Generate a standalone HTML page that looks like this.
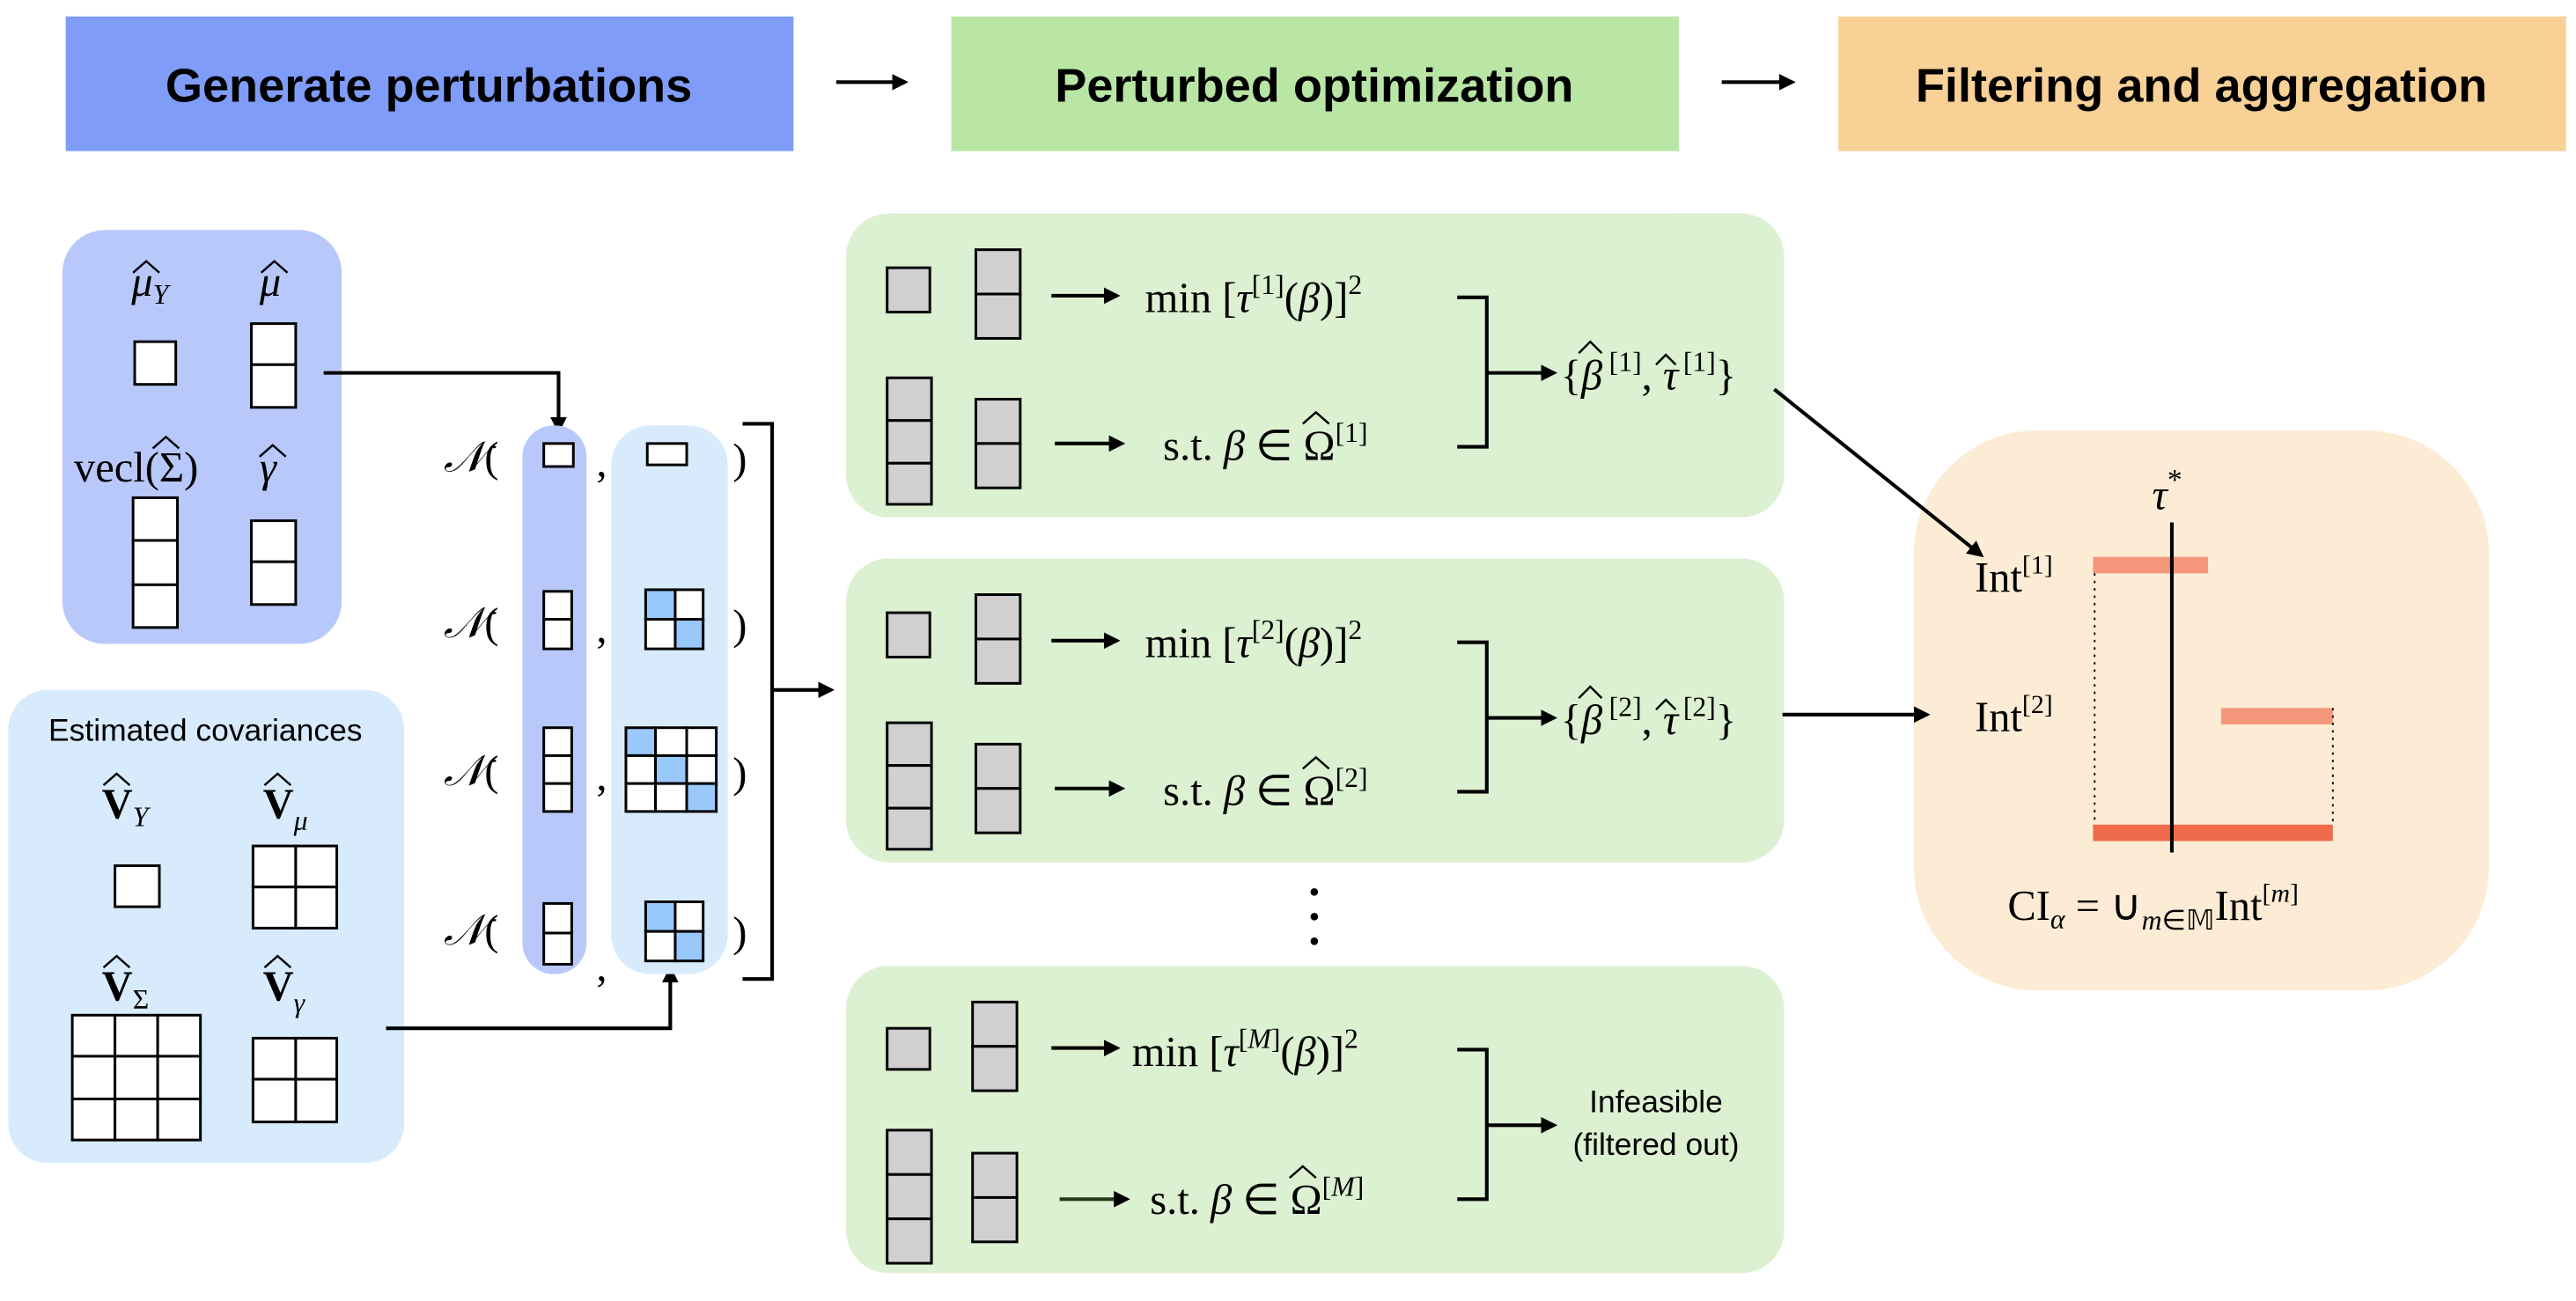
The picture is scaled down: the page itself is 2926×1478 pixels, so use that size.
<!DOCTYPE html>
<html><head><meta charset="utf-8"><style>
html,body{margin:0;padding:0;background:#fff;}
svg{display:block;}
.h{font-family:"Liberation Sans",sans-serif;font-weight:bold;font-size:29px;fill:#000;}
.m{font-family:"Liberation Serif",serif;font-size:26px;fill:#000;}
.i{font-style:italic;}
.s{font-family:"Liberation Sans",sans-serif;font-size:19px;fill:#000;}
.c{fill:#fff;stroke:#000;stroke-width:1.6;}
.g{fill:#d0d0d0;stroke:#000;stroke-width:1.6;}
.b{fill:#99c8fb;stroke:#000;stroke-width:1.6;}
.ln{stroke:#000;stroke-width:2.2;fill:none;}
.hat{stroke:#000;stroke-width:1.3;fill:none;}
</style></head><body>
<svg width="2926" height="1478" viewBox="0 0 1568 792" preserveAspectRatio="none" xmlns="http://www.w3.org/2000/svg">
<defs>
<marker id="a" markerWidth="10" markerHeight="10" refX="8" refY="5" orient="auto" markerUnits="userSpaceOnUse">
<path d="M0,0 L10,5 L0,10 z" fill="#000"/></marker>
</defs>
<!-- headers -->
<rect x="40" y="10" width="443" height="82" fill="#7f9cf8"/>
<text class="h" x="261" y="62" text-anchor="middle">Generate perturbations</text>
<line class="ln" x1="509" y1="50" x2="551" y2="50" marker-end="url(#a)"/>
<rect x="579" y="10" width="443" height="82" fill="#b9e6a5"/>
<text class="h" x="800" y="62" text-anchor="middle">Perturbed optimization</text>
<line class="ln" x1="1048" y1="50" x2="1091" y2="50" marker-end="url(#a)"/>
<rect x="1119" y="10" width="443" height="82" fill="#f8d196"/>
<text class="h" x="1340" y="62" text-anchor="middle">Filtering and aggregation</text>

<!-- left blue box -->
<rect x="38" y="140" width="170" height="252" rx="26" fill="#b8c8fb"/>
<text class="m i" x="80" y="180">μ<tspan font-size="17" dy="5">Y</tspan></text>
<path class="hat" d="M81,166 L89,159 L97,166"/>
<text class="m i" x="158" y="180">μ</text>
<path class="hat" d="M159,166 L167,159 L175,166"/>
<rect class="c" x="82" y="208" width="25" height="26"/>
<rect class="c" x="153" y="197" width="27" height="25"/><rect class="c" x="153" y="222" width="27" height="26"/>
<text class="m" x="45" y="293">vecl(Σ)</text>
<path class="hat" d="M93,273 L101,266 L109,273"/>
<text class="m i" x="158" y="293">γ</text>
<path class="hat" d="M158,278 L166,271 L174,278"/>
<rect class="c" x="81" y="303" width="27" height="26"/><rect class="c" x="81" y="329" width="27" height="27"/><rect class="c" x="81" y="356" width="27" height="26"/>
<rect class="c" x="153" y="317" width="27" height="25"/><rect class="c" x="153" y="342" width="27" height="26"/>
<polyline class="ln" points="197,227 340,227 340,262" marker-end="url(#a)"/>

<!-- covariances box -->
<rect x="5" y="420" width="241" height="288" rx="24" fill="#d8ebfd"/>
<text class="s" x="125" y="451" text-anchor="middle">Estimated covariances</text>
<text class="m" x="62" y="498" font-weight="bold">V<tspan class="i" font-weight="normal" font-size="17" dy="5">Y</tspan></text>
<path class="hat" d="M63,478 L71,471 L79,478"/>
<text class="m" x="160" y="498" font-weight="bold">V<tspan class="i" font-weight="normal" font-size="17" dy="7">μ</tspan></text>
<path class="hat" d="M161,478 L169,471 L177,478"/>
<rect class="c" x="70" y="527" width="27" height="25"/>
<rect class="c" x="154" y="515" width="26" height="25"/><rect class="c" x="180" y="515" width="25" height="25"/>
<rect class="c" x="154" y="540" width="26" height="25"/><rect class="c" x="180" y="540" width="25" height="25"/>
<text class="m" x="62" y="609" font-weight="bold">V<tspan font-weight="normal" font-size="17" dy="5">Σ</tspan></text>
<path class="hat" d="M63,589 L71,582 L79,589"/>
<text class="m" x="160" y="609" font-weight="bold">V<tspan class="i" font-weight="normal" font-size="17" dy="7">γ</tspan></text>
<path class="hat" d="M161,589 L169,582 L177,589"/>
<g>
<rect class="c" x="44" y="618" width="26" height="25"/><rect class="c" x="70" y="618" width="26" height="25"/><rect class="c" x="96" y="618" width="26" height="25"/>
<rect class="c" x="44" y="643" width="26" height="26"/><rect class="c" x="70" y="643" width="26" height="26"/><rect class="c" x="96" y="643" width="26" height="26"/>
<rect class="c" x="44" y="669" width="26" height="25"/><rect class="c" x="70" y="669" width="26" height="25"/><rect class="c" x="96" y="669" width="26" height="25"/>
</g>
<rect class="c" x="154" y="632" width="26" height="25"/><rect class="c" x="180" y="632" width="25" height="25"/>
<rect class="c" x="154" y="657" width="26" height="26"/><rect class="c" x="180" y="657" width="25" height="26"/>
<polyline class="ln" points="235,626 408,626 408,590" marker-end="url(#a)"/>

<!-- capsules -->
<rect x="318" y="259" width="39" height="334" rx="19" fill="#b8c8fb"/>
<rect x="372" y="259" width="71" height="334" rx="24" fill="#d8ebfd"/>
<g class="m">
<text x="270" y="287"><tspan class="i">𝒩</tspan>(</text>
<text x="270" y="388"><tspan class="i">𝒩</tspan>(</text>
<text x="270" y="478"><tspan class="i">𝒩</tspan>(</text>
<text x="270" y="575"><tspan class="i">𝒩</tspan>(</text>
<text x="363" y="290">,</text><text x="363" y="391">,</text><text x="363" y="481">,</text><text x="363" y="597">,</text>
<text x="446" y="288">)</text><text x="446" y="389">)</text><text x="446" y="479">)</text><text x="446" y="576">)</text>
</g>
<rect class="c" x="331" y="270" width="18" height="14"/>
<rect class="c" x="394" y="270" width="24" height="13"/>
<rect class="c" x="331" y="360" width="17" height="17"/><rect class="c" x="331" y="377" width="17" height="18"/>
<rect class="b" x="393" y="359" width="18" height="18"/><rect class="c" x="411" y="359" width="17" height="18"/>
<rect class="c" x="393" y="377" width="18" height="18"/><rect class="b" x="411" y="377" width="17" height="18"/>
<rect class="c" x="331" y="443" width="17" height="17"/><rect class="c" x="331" y="460" width="17" height="17"/><rect class="c" x="331" y="477" width="17" height="17"/>
<g>
<rect class="b" x="381" y="443" width="18" height="17"/><rect class="c" x="399" y="443" width="19" height="17"/><rect class="c" x="418" y="443" width="18" height="17"/>
<rect class="c" x="381" y="460" width="18" height="17"/><rect class="b" x="399" y="460" width="19" height="17"/><rect class="c" x="418" y="460" width="18" height="17"/>
<rect class="c" x="381" y="477" width="18" height="17"/><rect class="c" x="399" y="477" width="19" height="17"/><rect class="b" x="418" y="477" width="18" height="17"/>
</g>
<rect class="c" x="331" y="550" width="17" height="18"/><rect class="c" x="331" y="568" width="17" height="19"/>
<rect class="b" x="393" y="549" width="18" height="18"/><rect class="c" x="411" y="549" width="17" height="18"/>
<rect class="c" x="393" y="567" width="18" height="18"/><rect class="b" x="411" y="567" width="17" height="18"/>
<polyline class="ln" points="452,258 470,258 470,596 452,596"/>
<line class="ln" x1="470" y1="420" x2="506" y2="420" marker-end="url(#a)"/>

<!-- green boxes -->
<g id="gb">
<rect x="515" y="130" width="571" height="185" rx="26" fill="#dcf0d2"/>
<rect class="g" x="540" y="163" width="26" height="27"/>
<rect class="g" x="594" y="152" width="27" height="27"/><rect class="g" x="594" y="179" width="27" height="27"/>
<rect class="g" x="540" y="230" width="27" height="26"/><rect class="g" x="540" y="256" width="27" height="26"/><rect class="g" x="540" y="282" width="27" height="25"/>
<rect class="g" x="594" y="243" width="27" height="27"/><rect class="g" x="594" y="270" width="27" height="27"/>
<line class="ln" x1="640" y1="180" x2="680" y2="180" marker-end="url(#a)"/>
<line class="ln" x1="642" y1="270" x2="683" y2="270" marker-end="url(#a)"/>
<polyline class="ln" points="887,181 905,181 905,272 887,272"/>
<line class="ln" x1="905" y1="227" x2="946" y2="227" marker-end="url(#a)"/>
</g>
<use href="#gb" y="210"/>
<g transform="translate(0,458)">
<rect x="515" y="130" width="571" height="187" rx="26" fill="#dcf0d2"/>
<rect class="g" x="540" y="168" width="26" height="25"/>
<rect class="g" x="592" y="152" width="27" height="27"/><rect class="g" x="592" y="179" width="27" height="27"/>
<rect class="g" x="540" y="230" width="27" height="27"/><rect class="g" x="540" y="257" width="27" height="27"/><rect class="g" x="540" y="284" width="27" height="27"/>
<rect class="g" x="592" y="244" width="27" height="27"/><rect class="g" x="592" y="271" width="27" height="27"/>
<line class="ln" x1="640" y1="180" x2="680" y2="180" marker-end="url(#a)"/>
<line class="ln" x1="645" y1="272" x2="686" y2="272" marker-end="url(#a)" style="stroke:#223a18"/>
<polyline class="ln" points="887,181 905,181 905,272 887,272"/>
<line class="ln" x1="905" y1="227" x2="946" y2="227" marker-end="url(#a)"/>
</g>
<g class="m">
<text x="697" y="190">min [<tspan class="i">τ</tspan><tspan font-size="17" dy="-11">[1]</tspan><tspan dy="11">(</tspan><tspan class="i">β</tspan>)]<tspan font-size="17" dy="-11">2</tspan></text>
<text x="708" y="280">s.t. <tspan class="i">β</tspan> ∈ Ω<tspan font-size="17" dy="-11">[1]</tspan></text>
<text x="950" y="237">{<tspan class="i">β</tspan><tspan font-size="17" dy="-11" dx="4">[1]</tspan><tspan dy="11">, </tspan><tspan class="i">τ</tspan><tspan font-size="17" dy="-11" dx="3">[1]</tspan><tspan dy="11">}</tspan></text>
<text x="697" y="400">min [<tspan class="i">τ</tspan><tspan font-size="17" dy="-11">[2]</tspan><tspan dy="11">(</tspan><tspan class="i">β</tspan>)]<tspan font-size="17" dy="-11">2</tspan></text>
<text x="708" y="490">s.t. <tspan class="i">β</tspan> ∈ Ω<tspan font-size="17" dy="-11">[2]</tspan></text>
<text x="950" y="447">{<tspan class="i">β</tspan><tspan font-size="17" dy="-11" dx="4">[2]</tspan><tspan dy="11">, </tspan><tspan class="i">τ</tspan><tspan font-size="17" dy="-11" dx="3">[2]</tspan><tspan dy="11">}</tspan></text>
<text x="689" y="649">min [<tspan class="i">τ</tspan><tspan font-size="17" dy="-11">[<tspan class="i">M</tspan>]</tspan><tspan dy="11">(</tspan><tspan class="i">β</tspan>)]<tspan font-size="17" dy="-11">2</tspan></text>
<text x="700" y="739">s.t. <tspan class="i">β</tspan> ∈ Ω<tspan font-size="17" dy="-11">[<tspan class="i">M</tspan>]</tspan></text>
</g>
<!-- hats for Omega, beta, tau -->
<path class="hat" d="M793,258 L801,251 L809,258"/>
<path class="hat" d="M793,468 L801,461 L809,468"/>
<path class="hat" d="M785,717 L793,710 L801,717"/>
<path class="hat" d="M961,215 L968,208 L975,215"/>
<path class="hat" d="M1008,222 L1014,216 L1020,222"/>
<path class="hat" d="M961,425 L968,418 L975,425"/>
<path class="hat" d="M1008,432 L1014,426 L1020,432"/>
<text class="s" x="1008" y="677" text-anchor="middle" font-size="20">Infeasible</text>
<text class="s" x="1008" y="703" text-anchor="middle" font-size="20">(filtered out)</text>
<circle cx="800" cy="543" r="2.3"/><circle cx="800" cy="558" r="2.3"/><circle cx="800" cy="573" r="2.3"/>

<!-- orange box -->
<rect x="1165" y="262" width="350" height="341" rx="75" fill="#fcecd5"/>
<line class="ln" x1="1080" y1="237" x2="1206" y2="338" marker-end="url(#a)"/>
<line class="ln" x1="1085" y1="435" x2="1173" y2="435" marker-end="url(#a)"/>
<text class="m i" x="1310" y="310">τ<tspan font-style="normal" font-size="18" dy="-12">*</tspan></text>
<rect x="1274" y="339" width="70" height="10" fill="#f4967a"/>
<rect x="1352" y="431" width="68" height="10" fill="#f4967a"/>
<rect x="1274" y="502" width="146" height="10" fill="#f06a4c"/>
<line x1="1275" y1="349" x2="1275" y2="502" stroke="#000" stroke-width="1" stroke-dasharray="1.5,3"/>
<line x1="1420" y1="431" x2="1420" y2="502" stroke="#000" stroke-width="1" stroke-dasharray="1.5,3"/>
<line x1="1322" y1="318" x2="1322" y2="519" stroke="#000" stroke-width="2.2"/>
<g class="m" font-size="24">
<text x="1202" y="360">Int<tspan font-size="16" dy="-11">[1]</tspan></text>
<text x="1202" y="445">Int<tspan font-size="16" dy="-11">[2]</tspan></text>
<text x="1222" y="560">CI<tspan class="i" font-size="17" dy="5">α</tspan><tspan dy="-5"> = ∪</tspan><tspan class="i" font-size="17" dy="6">m</tspan><tspan font-size="17">∈𝕄</tspan><tspan dy="-6">Int</tspan><tspan font-size="16" dy="-11">[<tspan class="i">m</tspan>]</tspan></text>
</g>
</svg>
</body></html>
